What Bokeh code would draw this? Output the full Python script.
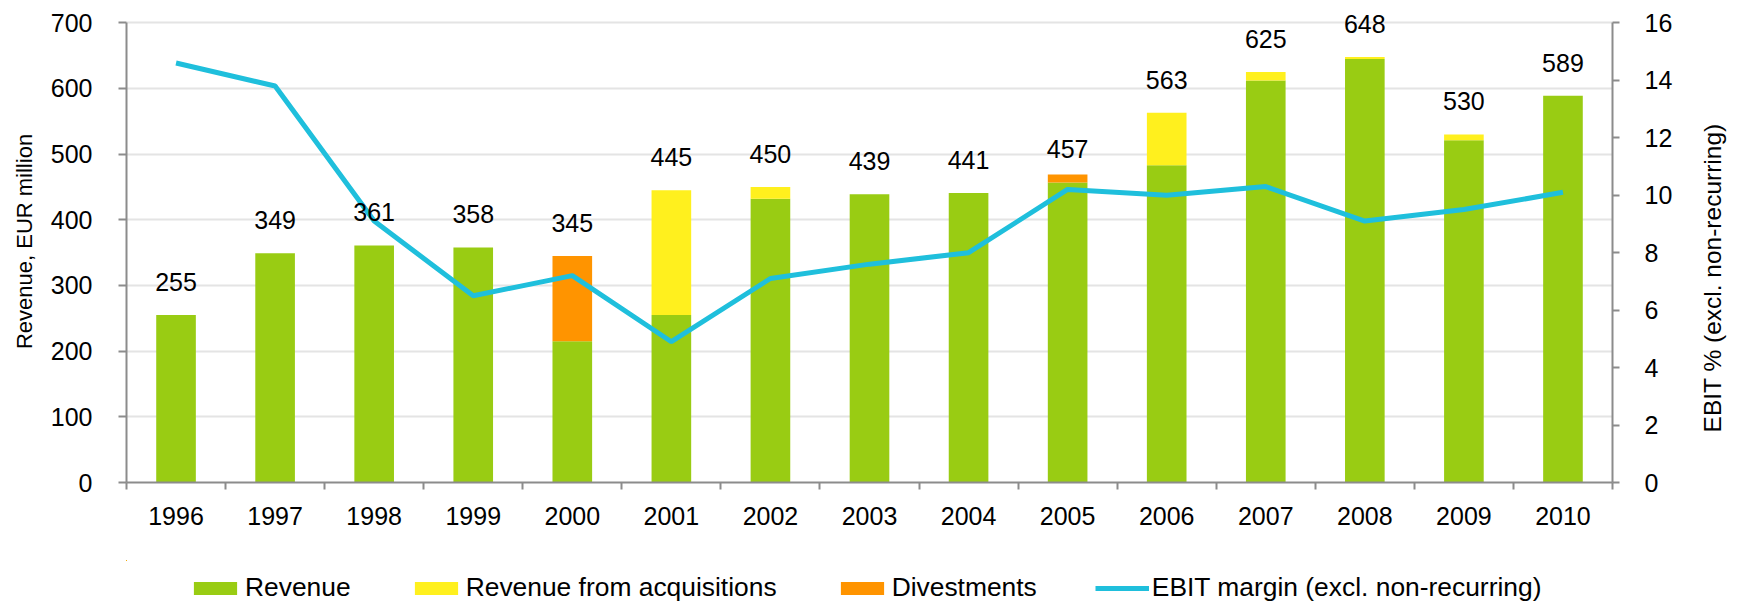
import math
from bokeh.plotting import figure
from bokeh.models import (ColumnDataSource, Range1d, LinearAxis, FixedTicker,
                          Legend, LegendItem, LabelSet, Label)
from bokeh.layouts import column, row
from bokeh.core.properties import value
from bokeh.embed import file_html
from bokeh.resources import INLINE

# ---- data ----
years = ["1996", "1997", "1998", "1999", "2000", "2001", "2002", "2003",
         "2004", "2005", "2006", "2007", "2008", "2009", "2010"]
revenue = [255, 349, 361, 358, 215, 255, 432, 439, 441, 457, 483, 612, 645, 521, 589]
acquisitions = [0, 0, 0, 0, 0, 190, 18, 0, 0, 0, 80, 13, 3, 9, 0]
divestments = [0, 0, 0, 0, 130, 0, 0, 0, 0, 12, 0, 0, 0, 0, 0]
totals = [255, 349, 361, 358, 345, 445, 450, 439, 441, 457, 563, 625, 648, 530, 589]
ebit_margin = [14.6, 13.8, 9.1, 6.5, 7.2, 4.9, 7.1, 7.6, 8.0, 10.2, 10.0, 10.3, 9.1, 9.5, 10.1]
revenue_ticks = [0, 100, 200, 300, 400, 500, 600, 700]
ebit_ticks = [0, 2, 4, 6, 8, 10, 12, 14, 16]
legend_labels = ["Revenue", "Revenue from acquisitions", "Divestments",
                 "EBIT margin (excl. non-recurring)"]
right_title = "EBIT %  (excl. non-recurring)"

GREEN = "#99cc13"
YELLOW = "#fff01e"
ORANGE = "#ff9400"
CYAN = "#1fbfdc"
AXIS = "#8c8c8c"
GRID = "#e4e4e4"
FONT = "Liberation Sans"

W = 1736
RW = 46                # strip holding the right-hand axis title
H_MAIN = 560
H_LEG = 44
FRAME_L, FRAME_R = 126, 1612
FRAME_H = 482          # frame spans from canvas top to the zero line
TOP_GAP = 22.3         # px between canvas top and the 700 / 16 line
rev_max, ebit_max = revenue_ticks[-1], ebit_ticks[-1]
rev_end = rev_max * FRAME_H / (FRAME_H - TOP_GAP)
ebit_end = ebit_max * FRAME_H / (FRAME_H - TOP_GAP)

xs = list(range(len(years)))
acq_top = [r + a for r, a in zip(revenue, acquisitions)]
div_top = [t + d for t, d in zip(acq_top, divestments)]

source = ColumnDataSource(dict(
    x=xs, revenue=revenue, acq_top=acq_top, div_top=div_top,
    total=totals, label=[str(t) for t in totals], ebit=ebit_margin))


def draw_series(fig, y_range_name):
    r1 = fig.vbar(x="x", width=0.4, bottom=0, top="revenue", source=source,
                  fill_color=GREEN, line_color=None)
    r2 = fig.vbar(x="x", width=0.4, bottom="revenue", top="acq_top", source=source,
                  fill_color=YELLOW, line_color=None)
    r3 = fig.vbar(x="x", width=0.4, bottom="acq_top", top="div_top", source=source,
                  fill_color=ORANGE, line_color=None)
    r4 = fig.line(x="x", y="ebit", source=source, y_range_name=y_range_name,
                  line_color=CYAN, line_width=5)
    return [r1, r2, r3, r4]


p = figure(width=W - RW, height=H_MAIN,
           x_range=Range1d(-0.5, len(years) - 0.5),
           y_range=Range1d(0, rev_end),
           output_backend="svg", toolbar_location=None,
           min_border_left=FRAME_L, min_border_right=W - RW - FRAME_R,
           min_border_top=0, min_border_bottom=H_MAIN - FRAME_H)
p.extra_y_ranges = {"ebit": Range1d(0, ebit_end)}
p.outline_line_color = None
p.background_fill_color = "white"

draw_series(p, "ebit")

labels = LabelSet(x="x", y="total", text="label", source=source,
                  text_align="center", text_baseline="middle", y_offset=33,
                  text_font=value(FONT), text_font_size="25px", text_color="black")
p.add_layout(labels)

# grid
p.xgrid.visible = False
p.ygrid.grid_line_color = GRID
p.ygrid.grid_line_width = 2

# x axis
xa = p.xaxis[0]
xa.ticker = FixedTicker(ticks=xs, minor_ticks=[i - 0.5 for i in range(len(years) + 1)])
xa.major_label_overrides = {i: y for i, y in enumerate(years)}
xa.major_tick_in = 0
xa.major_tick_out = 0
xa.minor_tick_in = 0
xa.minor_tick_out = 7
xa.minor_tick_line_color = AXIS
xa.minor_tick_line_width = 2
xa.axis_line_color = AXIS
xa.axis_line_width = 2
xa.major_label_standoff = 17
xa.major_label_text_font = FONT
xa.major_label_text_font_size = "25px"
xa.major_label_text_color = "black"

# left axis
ya = p.yaxis[0]
ya.ticker = FixedTicker(ticks=revenue_ticks)
ya.bounds = (0, rev_max)
ya.axis_label = "Revenue, EUR million"
ya.axis_label_text_font = FONT
ya.axis_label_text_font_size = "22px"
ya.axis_label_text_font_style = "normal"
ya.axis_label_text_color = "black"
ya.axis_label_standoff = 11
ya.major_label_standoff = 26
ya.major_label_text_font = FONT
ya.major_label_text_font_size = "25px"
ya.major_label_text_color = "black"
ya.major_tick_in = 0
ya.major_tick_out = 8
ya.major_tick_line_color = AXIS
ya.major_tick_line_width = 2
ya.minor_tick_line_color = None
ya.axis_line_color = AXIS
ya.axis_line_width = 2

# right axis (its title sits in the narrow strip to the right)
ra = LinearAxis(y_range_name="ebit", ticker=FixedTicker(ticks=ebit_ticks))
ra.bounds = (0, ebit_max)
ra.major_label_standoff = 25
ra.major_label_text_font = FONT
ra.major_label_text_font_size = "25px"
ra.major_label_text_color = "black"
ra.major_tick_in = 0
ra.major_tick_out = 7
ra.major_tick_line_color = AXIS
ra.major_tick_line_width = 2
ra.minor_tick_line_color = None
ra.axis_line_color = AXIS
ra.axis_line_width = 2
p.add_layout(ra, "right")

# ---- strip with the right-hand axis title, reading bottom-to-top ----
rt = figure(width=RW, height=H_MAIN, x_range=Range1d(0, RW), y_range=Range1d(0, FRAME_H),
            x_axis_type=None, y_axis_type=None,
            output_backend="svg", toolbar_location=None,
            min_border_left=0, min_border_right=0, min_border_top=0,
            min_border_bottom=H_MAIN - FRAME_H)
rt.outline_line_color = None
rt.xgrid.visible = False
rt.ygrid.visible = False
rt.add_layout(Label(x=RW / 2 - 1, y=FRAME_H - 274, text=right_title,
                    angle=math.pi / 2, text_align="center", text_baseline="middle",
                    text_font=FONT, text_font_size="24.5px", text_color="black"))

# ---- legend strip: same series drawn into a window far away from all data ----
lg = figure(width=W, height=H_LEG, x_range=Range1d(100000, 100001),
            y_range=Range1d(-100000, -99999),
            x_axis_type=None, y_axis_type=None,
            output_backend="svg", toolbar_location=None,
            min_border_left=FRAME_L, min_border_right=W - FRAME_R,
            min_border_top=0, min_border_bottom=0)
lg.extra_y_ranges = {"ebit": Range1d(-100000, -99999)}
lg.outline_line_color = None
lg.xgrid.visible = False
lg.ygrid.visible = False
proxies = draw_series(lg, "ebit")

legend = Legend(items=[LegendItem(label=t, renderers=[r])
                       for t, r in zip(legend_labels, proxies)],
                location=(62, 1), orientation="horizontal",
                glyph_width=54, glyph_height=16, label_standoff=3, spacing=58,
                padding=0, margin=0, border_line_color=None, background_fill_alpha=0,
                label_text_font=FONT, label_text_font_size="26.4px",
                label_text_color="black")
lg.add_layout(legend)

layout = column(row(p, rt, spacing=0), lg, spacing=0)
open("out.html", "w").write(file_html(layout, INLINE))
